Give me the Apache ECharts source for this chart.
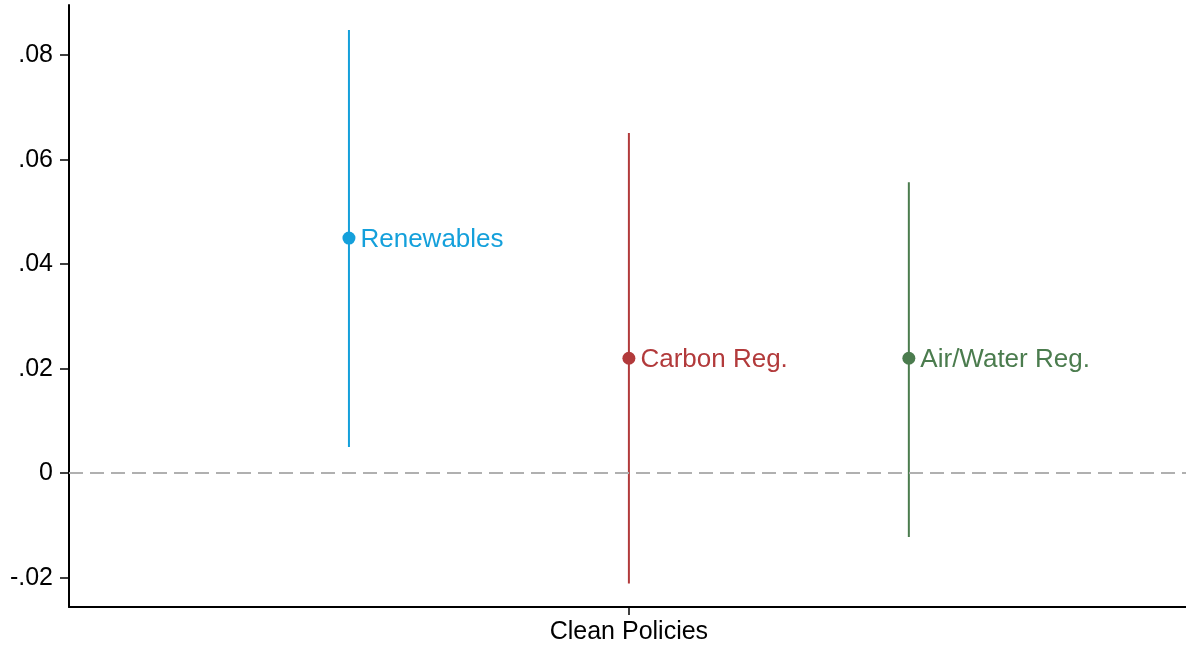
<!DOCTYPE html>
<html>
<head>
<meta charset="utf-8">
<script src="https://cdn.jsdelivr.net/npm/echarts@6/dist/echarts.min.js"></script>
<style>
  html, body { margin: 0; padding: 0; background: #fff; }
  #chart { width: 1186px; height: 648px; }
</style>
</head>
<body>
<div id="chart"></div>
<script>
// Coefficient estimates with confidence intervals, by policy type
const policies = ['Renewables', 'Carbon Reg.', 'Air/Water Reg.'];
const positions = [1, 2, 3];
const estimates = [0.045, 0.022, 0.022];
const lowerCI = [0.005, -0.0211, -0.0122];
const upperCI = [0.0848, 0.0651, 0.0557];
const colors = ['#14a0db', '#b23a3b', '#4b7c4e'];

const yTicks = [-0.02, 0, 0.02, 0.04, 0.06, 0.08];
const xTickValue = [2];
const xTickLabel = 'Clean Policies';

const FONT = '"Liberation Sans", Arial, sans-serif';

function fmtTick(v) {
  if (Math.abs(v) < 1e-12) return '0';
  const s = v.toFixed(2);
  return s.replace(/^(-?)0\./, '$1.');
}

const series = [];
policies.forEach((name, i) => {
  // confidence interval whisker
  series.push({
    type: 'line',
    data: [[positions[i], lowerCI[i]], [positions[i], upperCI[i]]],
    showSymbol: false,
    symbol: 'none',
    lineStyle: { color: colors[i], width: 2, opacity: 1 },
    silent: true,
    z: 3
  });
  // point estimate with its label
  series.push({
    type: 'scatter',
    data: [[positions[i], estimates[i]]],
    symbol: 'circle',
    symbolSize: 13,
    itemStyle: { color: colors[i], opacity: 1 },
    label: {
      show: true,
      position: 'right',
      distance: 5,
      offset: [0, 2],
      formatter: name,
      color: colors[i],
      fontSize: 26,
      fontFamily: FONT
    },
    z: 4
  });
});

// zero reference line
series.push({
  type: 'line',
  data: [],
  markLine: {
    silent: true,
    symbol: 'none',
    label: { show: false },
    lineStyle: { color: '#b0b0b0', width: 2, type: [14, 7] },
    data: [{ yAxis: 0 }]
  }
});

const chart = echarts.init(document.getElementById('chart'), null, { renderer: 'canvas' });
chart.setOption({
  animation: false,
  backgroundColor: '#ffffff',
  grid: { left: 69, right: 0, top: 5, bottom: 41, containLabel: false },
  xAxis: {
    type: 'value',
    min: 0,
    max: 3.99,
    splitLine: { show: false },
    axisLine: { show: true, onZero: false, lineStyle: { color: '#000', width: 2 } },
    axisTick: { show: true, customValues: xTickValue, length: 8, lineStyle: { color: '#000', width: 1.5 } },
    axisLabel: {
      show: true,
      customValues: xTickValue,
      formatter: () => xTickLabel,
      color: '#000',
      fontSize: 25,
      margin: 13,
      fontFamily: FONT
    }
  },
  yAxis: {
    type: 'value',
    min: -0.0256,
    max: 0.0896,
    splitLine: { show: false },
    axisLine: { show: true, onZero: false, lineStyle: { color: '#000', width: 2 } },
    axisTick: { show: true, customValues: yTicks, length: 9, lineStyle: { color: '#000', width: 1.5 } },
    axisLabel: {
      show: true,
      customValues: yTicks,
      formatter: fmtTick,
      color: '#000',
      fontSize: 25,
      margin: 16,
      fontFamily: FONT
    }
  },
  series: series
});
</script>
</body>
</html>
